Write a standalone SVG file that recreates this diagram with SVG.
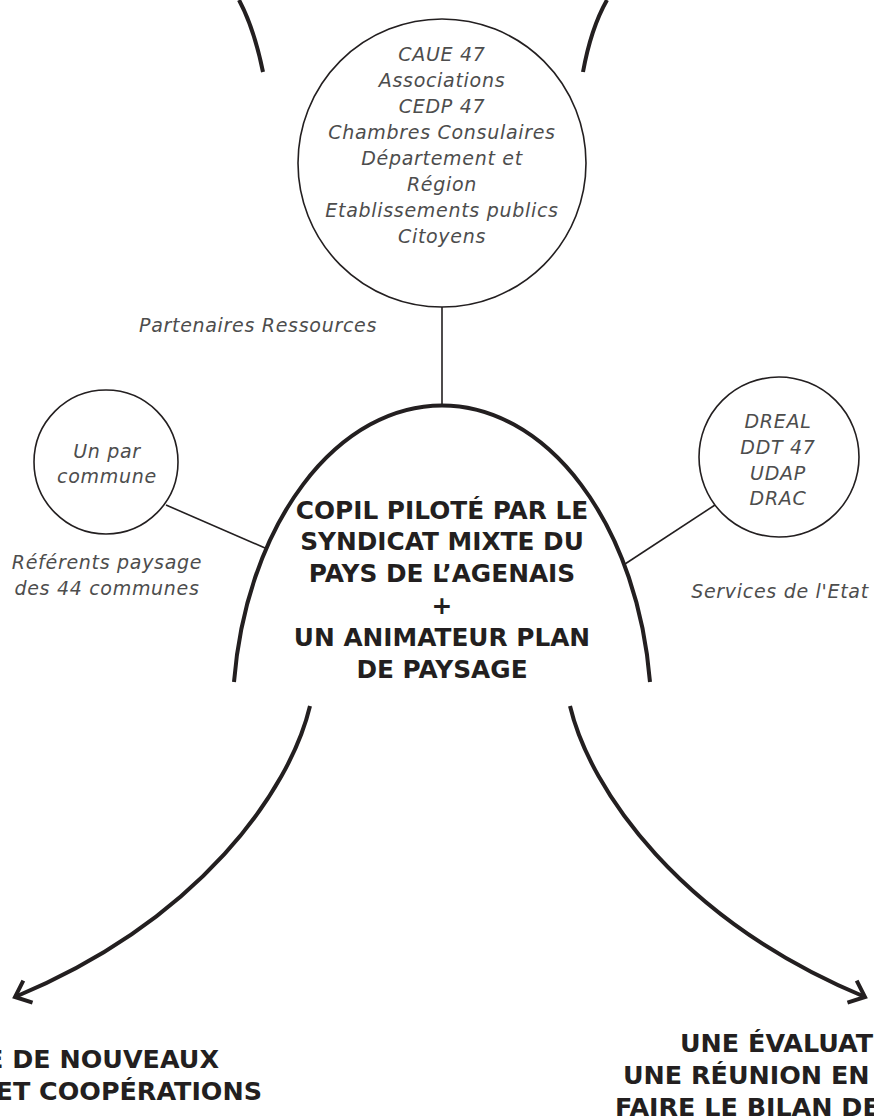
<svg xmlns="http://www.w3.org/2000/svg" width="874" height="1118" viewBox="0 0 874 1118">
<defs>
<style>
.thin{fill:none;stroke:#231f20;stroke-width:1.6}
.thick{fill:none;stroke:#231f20;stroke-width:4}
.it{font-family:"DejaVu Sans","Open Sans",sans-serif;font-style:italic;font-weight:200;font-size:19px;letter-spacing:0.7px;fill:#4d4d4d;text-anchor:middle}
.bd{font-family:"DejaVu Sans","Liberation Sans",sans-serif;font-weight:bold;font-size:24.8px;fill:#231f20;text-anchor:middle}
.bd2{font-family:"DejaVu Sans","Liberation Sans",sans-serif;font-weight:bold;font-size:25.4px;fill:#231f20}
</style>
<marker id="arr" markerUnits="userSpaceOnUse" markerWidth="40" markerHeight="40" viewBox="-20 -20 40 40" refX="0" refY="0" orient="auto" overflow="visible">
<path d="M-14,-12 L0,0 L-14,12" fill="none" stroke="#231f20" stroke-width="4"/>
</marker>
</defs>
<rect width="874" height="1118" fill="#fff"/>
<g id="connectors">
<path class="thick" d="M239,0 Q254,28 263,72"/>
<path class="thick" d="M607,0 Q591,28 583,72"/>
<line class="thin" x1="442" y1="307" x2="442" y2="406"/>
<line class="thin" x1="166" y1="505" x2="265" y2="548"/>
<line class="thin" x1="715" y1="505" x2="625" y2="564"/>
<path class="thick" d="M310,706 C290,790 200,920 15,997" marker-end="url(#arr)"/>
<path class="thick" d="M570,706 C590,790 680,920 865,997" marker-end="url(#arr)"/>
</g>
<g id="partners">
<circle class="thin" cx="442" cy="163" r="144"/>
<text class="it" x="442" y="61">CAUE 47</text>
<text class="it" x="442" y="87">Associations</text>
<text class="it" x="442" y="113">CEDP 47</text>
<text class="it" x="442" y="139">Chambres Consulaires</text>
<text class="it" x="442" y="165">Département et</text>
<text class="it" x="442" y="191">Région</text>
<text class="it" x="442" y="217">Etablissements publics</text>
<text class="it" x="442" y="243">Citoyens</text>
<text class="it" x="258" y="332">Partenaires Ressources</text>
</g>
<g id="referents">
<circle class="thin" cx="106" cy="462" r="72"/>
<text class="it" x="107" y="458">Un par</text>
<text class="it" x="107" y="483">commune</text>
<text class="it" x="107" y="569">Référents paysage</text>
<text class="it" x="107" y="595">des 44 communes</text>
</g>
<g id="etat">
<circle class="thin" cx="779" cy="457" r="80"/>
<text class="it" x="778" y="428">DREAL</text>
<text class="it" x="778" y="454">DDT 47</text>
<text class="it" x="778" y="480">UDAP</text>
<text class="it" x="778" y="505">DRAC</text>
<text class="it" x="780" y="598">Services de l'Etat</text>
</g>
<g id="copil">
<path class="thick" d="M234,682 A209.5,314 0 0 1 650,682"/>
<text class="bd" x="442" y="519">COPIL PILOTÉ PAR LE</text>
<text class="bd" x="442" y="550">SYNDICAT MIXTE DU</text>
<text class="bd" x="442" y="582">PAYS DE L’AGENAIS</text>
<text class="bd" x="442" y="614">+</text>
<text class="bd" x="442" y="646">UN ANIMATEUR PLAN</text>
<text class="bd" x="442" y="678">DE PAYSAGE</text>
</g>
<g id="cooperations">
<text class="bd2" x="219" y="1068" text-anchor="end">E DE NOUVEAUX</text>
<text class="bd2" x="262" y="1100" text-anchor="end">ET COOPÉRATIONS</text>
</g>
<g id="evaluation">
<text class="bd2" x="680" y="1052">UNE ÉVALUAT</text>
<text class="bd2" x="623" y="1084">UNE RÉUNION EN</text>
<text class="bd2" x="615" y="1116">FAIRE LE BILAN DE</text>
</g>
</svg>
